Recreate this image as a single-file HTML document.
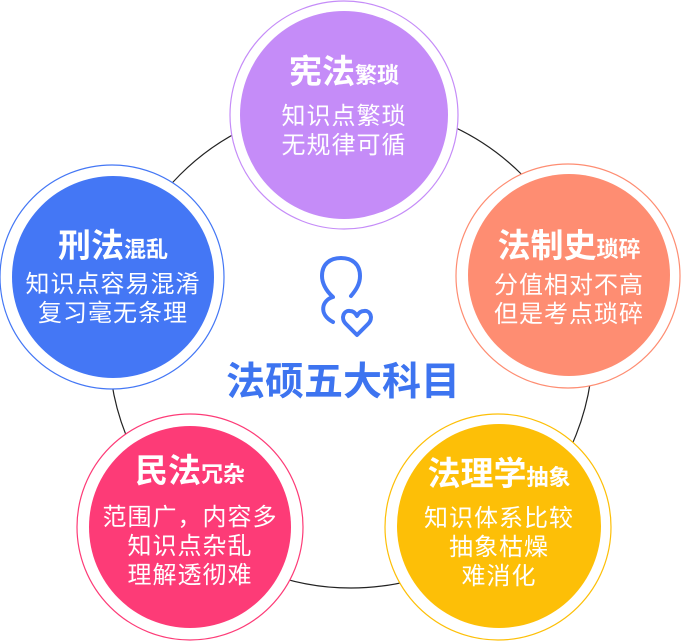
<!DOCTYPE html>
<html><head><meta charset="utf-8"><style>
body{margin:0;width:681px;height:641px;background:#fff;overflow:hidden;position:relative;font-family:"Liberation Sans","Noto Sans CJK SC",sans-serif;color:#fff}
.t{position:absolute;text-align:center;white-space:nowrap;line-height:1}
.h{font-weight:bold;font-size:33px}
.h small{font-size:22px}
.b{font-size:24px;line-height:29px;letter-spacing:1px}
</style></head><body>
<svg width="681" height="641" style="position:absolute;left:0;top:0">
<circle cx="351" cy="346" r="242" fill="none" stroke="#222" stroke-width="1.2"/>
<g stroke-width="1.2">
<circle cx="344" cy="115" r="114" fill="#fff" stroke="#c58cf8"/>
<circle cx="344" cy="115" r="104" fill="#c58cf8"/>
<circle cx="112" cy="277" r="112" fill="#fff" stroke="#4477f5"/>
<circle cx="113" cy="277" r="101" fill="#4477f5"/>
<circle cx="568" cy="276" r="112" fill="#fff" stroke="#fe8d72"/>
<circle cx="569" cy="275" r="101" fill="#fe8d72"/>
<circle cx="190" cy="527" r="113" fill="#fff" stroke="#fd3b77"/>
<circle cx="190" cy="527" r="101" fill="#fd3b77"/>
<circle cx="498" cy="527" r="113" fill="#fff" stroke="#fdbf07"/>
<circle cx="499" cy="526" r="102" fill="#fdbf07"/>
</g>
<g fill="none" stroke="#4477f5" stroke-width="4" stroke-linecap="round" stroke-linejoin="round">
<path d="M333 322 C318 314 322 300 333 297 C325 290 322 282 322 276 C322 264 330 258 341 258 C352 258 360 264 360 276 C360 284 356 290 351 296"/>
<path d="M357 335 L346 324 C340 318 344 310 350 311 C354 311 356 314 357 316 C358 314 360 311 364 311 C370 310 374 318 368 324 Z"/>
</g>
</svg>
<div class="t h" style="left:244px;width:200px;top:55px">宪法<small>繁琐</small></div>
<div class="t b" style="left:244px;width:200px;top:102px">知识点繁琐<br>无规律可循</div>
<div class="t h" style="left:13px;width:200px;top:229px">刑法<small>混乱</small></div>
<div class="t b" style="left:13px;width:200px;top:270px">知识点容易混淆<br>复习毫无条理</div>
<div class="t h" style="left:469px;width:200px;top:229px">法制史<small>琐碎</small></div>
<div class="t b" style="left:469px;width:200px;top:271px">分值相对不高<br>但是考点琐碎</div>
<div class="t h" style="left:90px;width:200px;top:454px">民法<small>冗杂</small></div>
<div class="t b" style="left:90px;width:200px;top:503px">范围广，内容多<br>知识点杂乱<br>理解透彻难</div>
<div class="t h" style="left:399px;width:200px;top:457px">法理学<small>抽象</small></div>
<div class="t b" style="left:399px;width:200px;top:504px">知识体系比较<br>抽象枯燥<br>难消化</div>
<div class="t" style="left:193px;width:300px;top:363px;font-size:39px;font-weight:bold;color:#3d74f0">法硕五大科目</div>
</body></html>
